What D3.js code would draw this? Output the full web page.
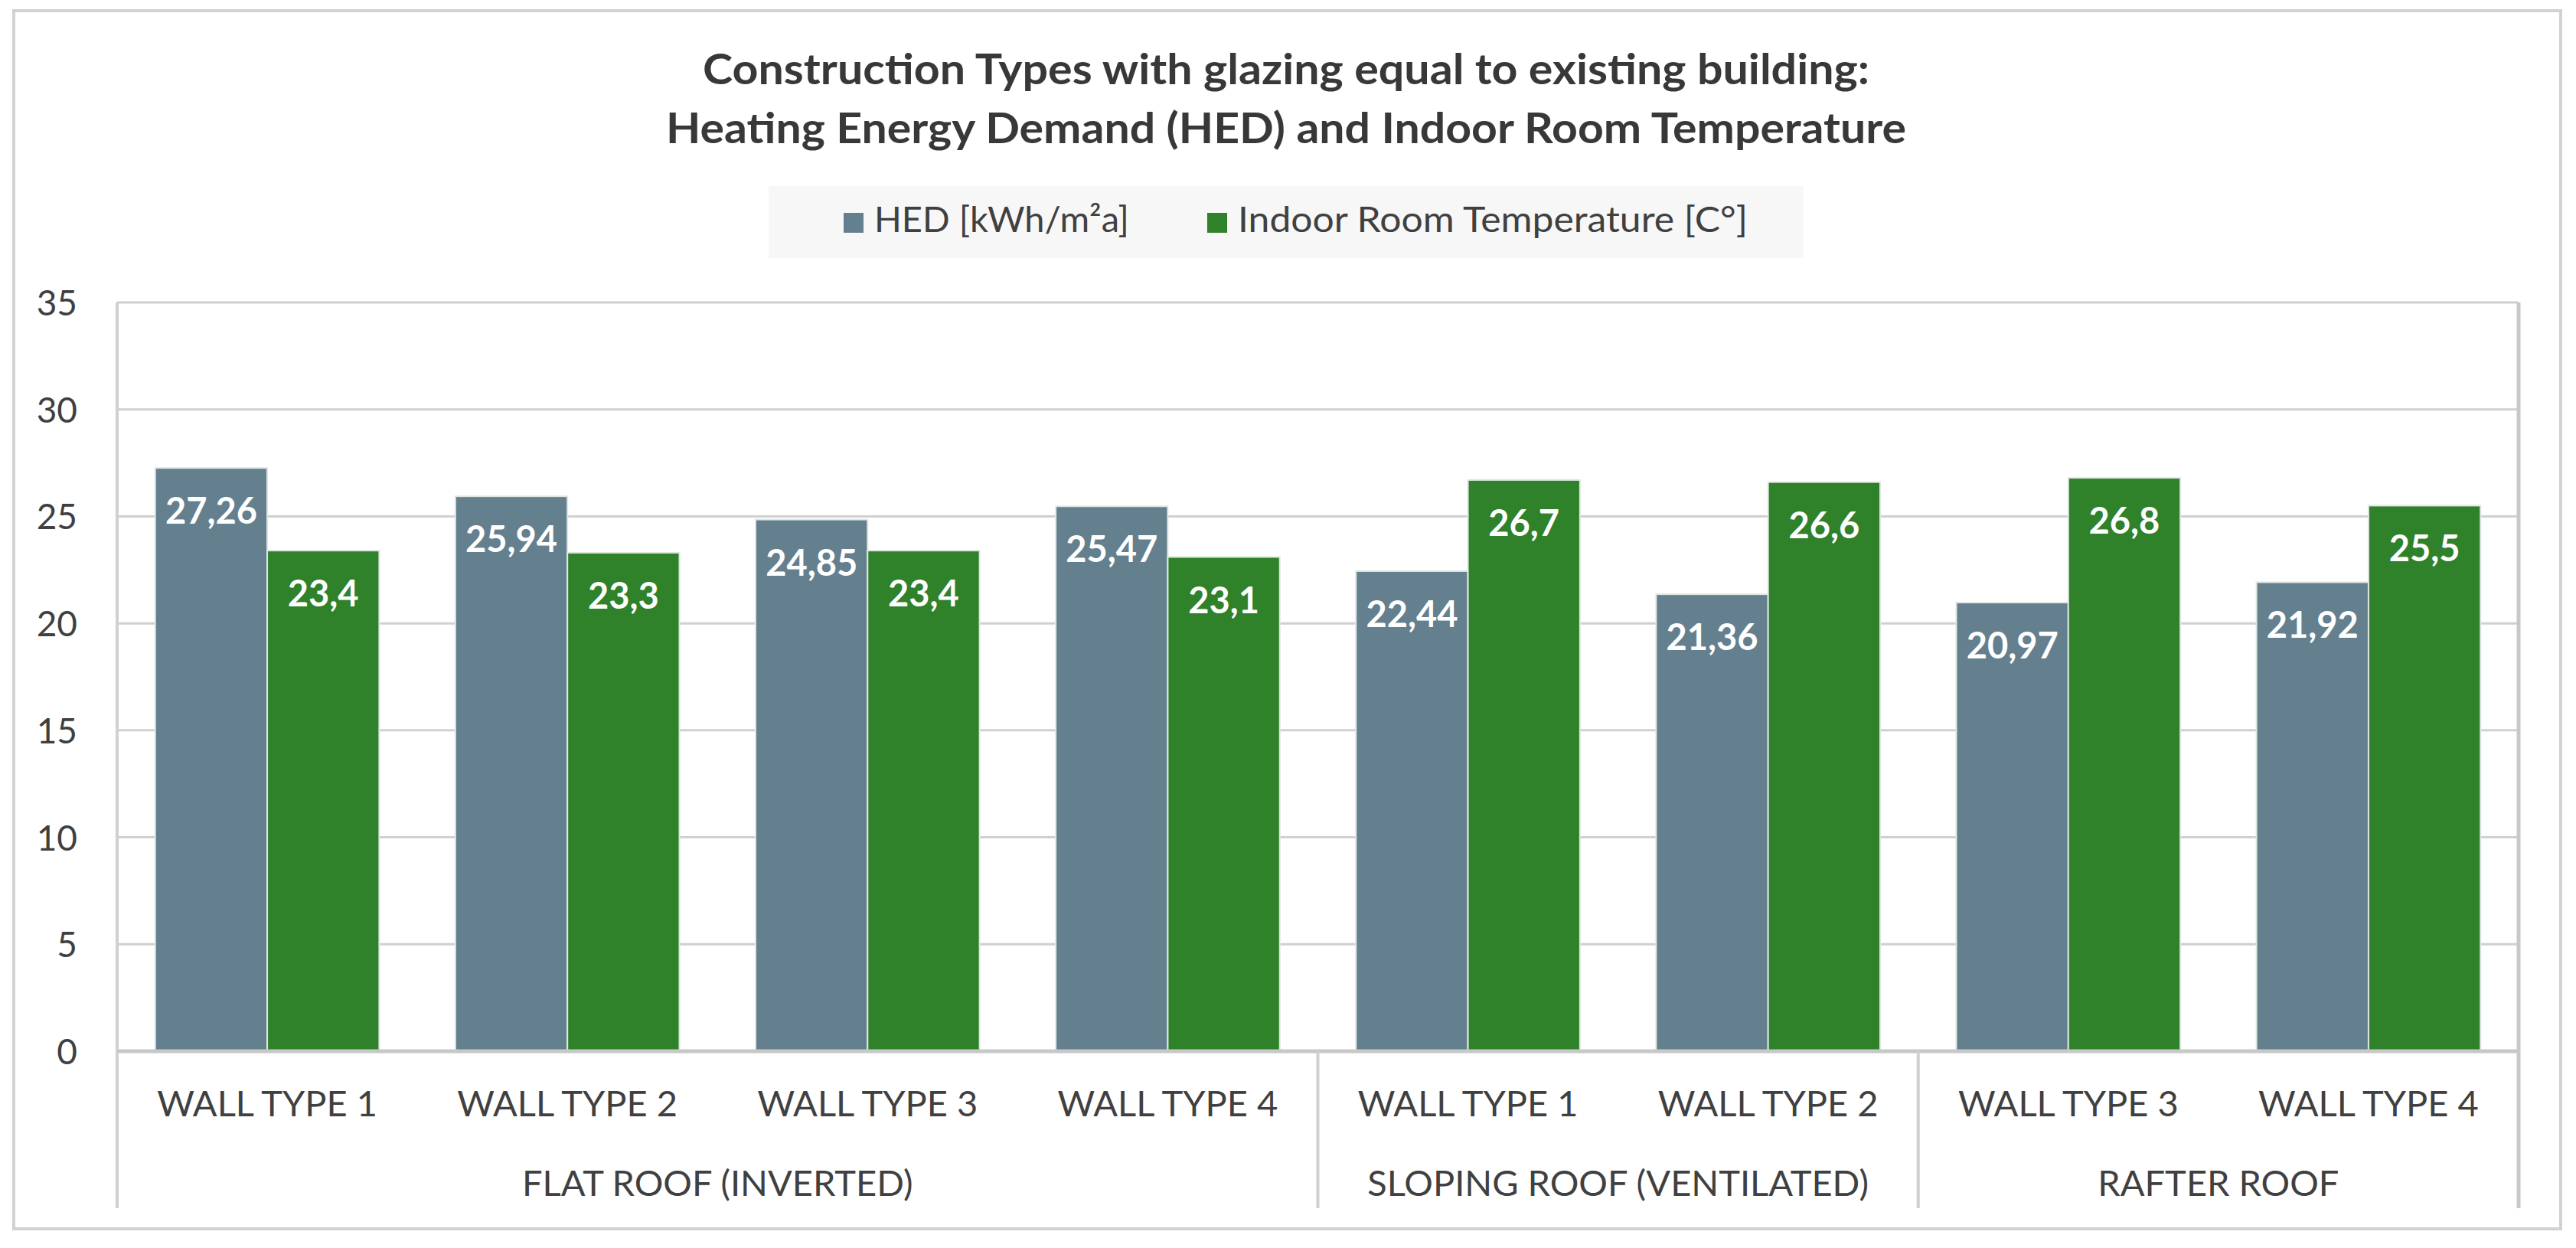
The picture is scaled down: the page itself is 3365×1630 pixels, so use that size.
<!DOCTYPE html>
<html>
<head>
<meta charset="utf-8">
<script src="https://cdn.jsdelivr.net/npm/d3@7"></script>
<style>
  html, body { margin: 0; padding: 0; background: #ffffff; }
  svg { display: block; }
  text { font-family: Lato, "Open Sans", sans-serif; }
</style>
</head>
<body>
<svg id="chart" width="3365" height="1630"></svg>
<script>
// ---------- data ----------
const titleLines = [
  "Construction Types with glazing equal to existing building:",
  "Heating Energy Demand (HED) and Indoor Room Temperature"
];
const seriesNames = ["HED [kWh/m²a]", "Indoor Room Temperature [C°]"];
const seriesColors = ["#64808f", "#2f812a"];
const categories = ["WALL TYPE 1", "WALL TYPE 2", "WALL TYPE 3", "WALL TYPE 4",
                    "WALL TYPE 1", "WALL TYPE 2", "WALL TYPE 3", "WALL TYPE 4"];
const groupNames = ["FLAT ROOF (INVERTED)", "SLOPING ROOF (VENTILATED)", "RAFTER ROOF"];
const categoryGroup = [0, 0, 0, 0, 1, 1, 2, 2];
const hedValues  = [27.26, 25.94, 24.85, 25.47, 22.44, 21.36, 20.97, 21.92];
const tempValues = [23.4, 23.3, 23.4, 23.1, 26.7, 26.6, 26.8, 25.5];
const yTicks = [0, 5, 10, 15, 20, 25, 30, 35];

// ---------- layout ----------
const svg = d3.select("#chart");
const plotLeft = 153, plotRight = 3290, plotTop = 395, plotBottom = 1373, catBottom = 1578;
const gridColor = "#d0d0d0";
const textColor = "#404040";

// outer frame
svg.append("rect")
  .attr("x", 18).attr("y", 14).attr("width", 3327).attr("height", 1591)
  .attr("fill", "#ffffff").attr("stroke", "#d2d2d2").attr("stroke-width", 4);

// title
const titleWidths = [1524, 1620];
svg.selectAll("text.title").data(titleLines).enter().append("text")
  .attr("class", "title")
  .attr("x", 1680).attr("y", (d, i) => 110 + i * 77)
  .attr("text-anchor", "middle")
  .attr("font-size", 55).attr("font-weight", 700)
  .attr("fill", "#383838")
  .attr("textLength", (d, i) => titleWidths[i])
  .attr("lengthAdjust", "spacingAndGlyphs")
  .text(d => d);

// legend
const legend = svg.append("g");
legend.append("rect").attr("x", 1004).attr("y", 243).attr("width", 1352).attr("height", 94)
  .attr("fill", "#f7f7f7");
const legendX = [1102, 1577];
const legendTextW = [333, 666];
seriesNames.forEach((name, i) => {
  legend.append("rect").attr("x", legendX[i]).attr("y", 278).attr("width", 26).attr("height", 26)
    .attr("fill", seriesColors[i]);
  legend.append("text").attr("x", legendX[i] + 40).attr("y", 303)
    .attr("font-size", 46).attr("fill", textColor)
    .attr("textLength", legendTextW[i]).attr("lengthAdjust", "spacingAndGlyphs")
    .text(name);
});

// scales
const y = d3.scaleLinear().domain([0, 35]).range([plotBottom, plotTop]);
const x0 = d3.scaleBand().domain(d3.range(categories.length)).range([plotLeft, plotRight])
  .paddingInner(0).paddingOuter(0);
const x1 = d3.scaleBand().domain([0, 1]).range([0, x0.bandwidth()])
  .paddingInner(0).paddingOuter(0.34);

// gridlines
svg.append("g").selectAll("line").data(yTicks.filter(t => t > 0)).enter().append("line")
  .attr("x1", plotLeft).attr("x2", plotRight)
  .attr("y1", d => y(d)).attr("y2", d => y(d))
  .attr("stroke", gridColor).attr("stroke-width", 3);

// y axis labels
const yAxis = d3.axisLeft(y).tickValues(yTicks).tickSize(0).tickPadding(0);
const yg = svg.append("g").attr("transform", "translate(101,0)").call(yAxis);
yg.select(".domain").remove();
yg.selectAll("text").attr("font-size", 46).attr("fill", textColor)
  .attr("font-family", "Lato, 'Open Sans', sans-serif").attr("dy", "0.36em");

// bars
const data = categories.map((c, i) => ({ i, vals: [hedValues[i], tempValues[i]] }));
const cat = svg.append("g").selectAll("g").data(data).enter().append("g")
  .attr("transform", d => `translate(${x0(d.i)},0)`);
const bars = cat.selectAll("g.bar").data(d => d.vals.map((v, s) => ({ v, s }))).enter()
  .append("g").attr("class", "bar");
bars.append("rect")
  .attr("x", d => x1(d.s)).attr("width", x1.bandwidth())
  .attr("y", d => y(d.v)).attr("height", d => y(0) - y(d.v))
  .attr("fill", d => seriesColors[d.s])
  .attr("stroke", "#dfe6e3").attr("stroke-width", 2);
bars.append("text")
  .attr("x", d => x1(d.s) + x1.bandwidth() / 2)
  .attr("y", d => y(d.v) + 73)
  .attr("text-anchor", "middle")
  .attr("font-size", 47).attr("font-weight", 700).attr("fill", "#ffffff")
  .text(d => String(d.v).replace(".", ","));

// plot frame: left, right
svg.append("line").attr("x1", plotLeft).attr("x2", plotLeft).attr("y1", plotTop).attr("y2", catBottom)
  .attr("stroke", gridColor).attr("stroke-width", 4);
svg.append("line").attr("x1", plotRight).attr("x2", plotRight).attr("y1", plotTop).attr("y2", catBottom)
  .attr("stroke", "#c8c8c8").attr("stroke-width", 5);
// baseline axis
svg.append("line").attr("x1", plotLeft).attr("x2", plotRight).attr("y1", plotBottom).attr("y2", plotBottom)
  .attr("stroke", "#c8c8c8").attr("stroke-width", 5);

// category labels
svg.append("g").selectAll("text").data(categories).enter().append("text")
  .attr("x", (d, i) => x0(i) + x0.bandwidth() / 2).attr("y", 1458)
  .attr("text-anchor", "middle").attr("font-size", 47).attr("fill", textColor)
  .text(d => d);

// group separators and labels
const groupInfo = groupNames.map((g, gi) => {
  const idx = categoryGroup.map((v, i) => v === gi ? i : -1).filter(i => i >= 0);
  return { name: g, start: x0(idx[0]), end: x0(idx[idx.length - 1]) + x0.bandwidth() };
});
svg.append("g").selectAll("line").data(groupInfo.slice(0, -1)).enter().append("line")
  .attr("x1", d => d.end).attr("x2", d => d.end).attr("y1", plotBottom).attr("y2", catBottom)
  .attr("stroke", gridColor).attr("stroke-width", 4);
svg.append("g").selectAll("text").data(groupInfo).enter().append("text")
  .attr("x", d => (d.start + d.end) / 2).attr("y", 1562)
  .attr("text-anchor", "middle").attr("font-size", 47).attr("fill", textColor)
  .text(d => d.name);
</script>
</body>
</html>
